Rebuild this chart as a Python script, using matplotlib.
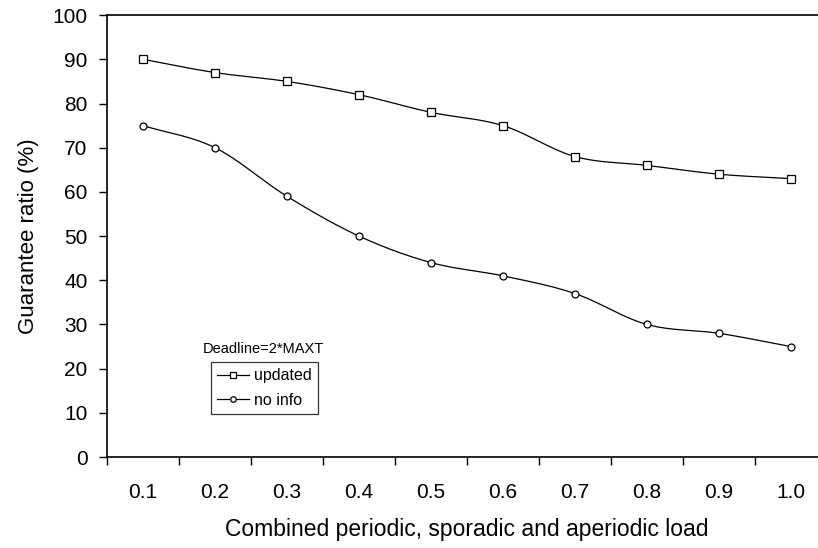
import matplotlib.pyplot as plt
import numpy as np

plt.rcParams['font.family'] = ['Liberation Sans', 'DejaVu Sans']

# valeurs
loads = ["0.1", "0.2", "0.3", "0.4", "0.5", "0.6", "0.7", "0.8", "0.9", "1.0"]
updated = [90, 87, 85, 82, 78, 75, 68, 66, 64, 63]
no_info = [75, 70, 59, 50, 44, 41, 37, 30, 28, 25]


def smooth(x, y, n=20):
    # courbe lissee type Catmull-Rom entre les points (comme Excel)
    x = np.asarray(x, float)
    y = np.asarray(y, float)
    px = np.concatenate([[2 * x[0] - x[1]], x, [2 * x[-1] - x[-2]]])
    py = np.concatenate([[2 * y[0] - y[1]], y, [2 * y[-1] - y[-2]]])
    xs, ys = [], []
    t = np.linspace(0, 1, n)
    for i in range(1, len(px) - 2):
        for p, out in ((px, xs), (py, ys)):
            p0, p1, p2, p3 = p[i - 1], p[i], p[i + 1], p[i + 2]
            out.extend(0.5 * (2 * p1 + (-p0 + p2) * t
                              + (2 * p0 - 5 * p1 + 4 * p2 - p3) * t ** 2
                              + (-p0 + 3 * p1 - 3 * p2 + p3) * t ** 3))
    return xs, ys


fig = plt.figure(figsize=(8.18, 5.48), dpi=100)
ax = fig.add_axes([0.1308, 0.166, 0.880, 0.8064])

x = np.arange(len(loads)) + 0.5
for vals, mk, ms, lab in ((updated, 's', 5.5, "updated"), (no_info, 'o', 5, "no info")):
    sx, sy = smooth(x, vals)
    ax.plot(sx, sy, color='black', lw=0.9)
    ax.plot(x, vals, linestyle='none', marker=mk, ms=ms, mfc='white', mec='black', mew=0.9)
    ax.plot([], [], color='black', lw=0.9, marker=mk, ms=ms - 1, mfc='white', mec='black',
            mew=0.9, label=lab)

ax.set_xlim(0, len(loads))
ax.set_ylim(0, 100)
ax.set_xticks(x)
ax.set_xticklabels(loads)
ax.set_xticks(np.arange(0, len(loads) + 1), minor=True)
ax.tick_params(axis='x', which='major', length=0, pad=19, labelsize=15)
ax.tick_params(axis='x', which='minor', length=6, width=1)
ax.set_yticks(np.arange(0, 101, 10))
ax.tick_params(axis='y', length=6, width=1, labelsize=15, pad=8)
for s in ax.spines.values():
    s.set_linewidth(1.2)

ax.set_xlabel("Combined periodic, sporadic and aperiodic load", fontsize=16.5, labelpad=11)
ax.set_ylabel("Guarantee ratio (%)", fontsize=16, labelpad=10)

ax.text(1.33, 24.5, "Deadline=2*MAXT", fontsize=10.5, va='center')
leg = ax.legend(loc='upper left', bbox_to_anchor=(0.144, 0.215), fontsize=11.5,
                frameon=True, fancybox=False, edgecolor='black', handlelength=2.0,
                handletextpad=0.3, borderpad=0.4, labelspacing=0.6, borderaxespad=0)
leg.get_frame().set_linewidth(0.9)

plt.savefig("out.png", dpi=100)
